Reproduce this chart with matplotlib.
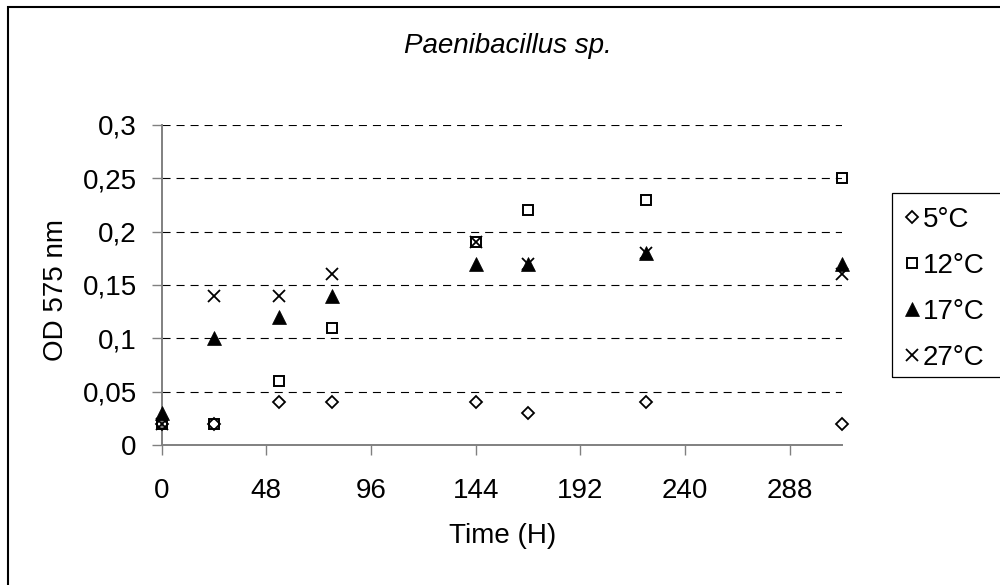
import matplotlib
matplotlib.use("Agg")
import matplotlib.pyplot as plt
from matplotlib.patches import Rectangle
from matplotlib.ticker import FixedLocator, FuncFormatter

plt.rcParams['font.family'] = ['Liberation Sans', 'DejaVu Sans']
plt.rcParams['lines.scale_dashes'] = False

# Growth of Paenibacillus sp. at four temperatures
time_h = [0, 24, 54, 78, 144, 168, 222, 312]
od_5c = [0.02, 0.02, 0.04, 0.04, 0.04, 0.03, 0.04, 0.02]
od_12c = [0.02, 0.02, 0.06, 0.11, 0.19, 0.22, 0.23, 0.25]
od_17c = [0.03, 0.10, 0.12, 0.14, 0.17, 0.17, 0.18, 0.17]
od_27c = [0.02, 0.14, 0.14, 0.16, 0.19, 0.17, 0.18, 0.16]

series_labels = ['5°C', '12°C', '17°C', '27°C']
x_ticks = [0, 48, 96, 144, 192, 240, 288]
y_ticks = [0, 0.05, 0.1, 0.15, 0.2, 0.25, 0.3]

W, H = 1000, 585
fig = plt.figure(figsize=(W / 100, H / 100), dpi=100)

def fx(px):
    return px / W

def fy(py):
    return 1 - py / H

# outer chart border
fig.patches.append(Rectangle((fx(8), fy(H + 20)), fx(W + 20 - 8), (H + 20 - 7) / H,
                             transform=fig.transFigure, fill=False,
                             edgecolor='black', linewidth=1.5))

ax = fig.add_axes([fx(161.7), fy(445), fx(842) - fx(161.7), fy(125) - fy(445)])
ax.set_xlim(0, 312)
ax.set_ylim(0, 0.3)

grey = '#808080'
for s in ['top', 'right']:
    ax.spines[s].set_visible(False)
for s in ['left', 'bottom']:
    ax.spines[s].set_color(grey)
    ax.spines[s].set_linewidth(1.4)

ax.xaxis.set_major_locator(FixedLocator(x_ticks))
ax.yaxis.set_major_locator(FixedLocator(y_ticks))
ax.yaxis.set_major_formatter(FuncFormatter(lambda v, p: ('%g' % v).replace('.', ',')))
ax.xaxis.set_major_formatter(FuncFormatter(lambda v, p: '%d' % v))
ax.tick_params(axis='both', direction='out', length=7.2, width=1.0, color=grey,
               labelsize=20, labelcolor='black')
ax.tick_params(axis='x', pad=16.5)
ax.tick_params(axis='y', pad=10.8)

for yv in y_ticks[1:]:
    ax.axhline(yv, color='black', linewidth=0.8, dashes=(5.8, 4.3), zorder=1)

common = dict(linestyle='none', clip_on=False, zorder=3)
h5, = ax.plot(time_h, od_5c, marker='D', markersize=6.0, markerfacecolor='none',
              markeredgecolor='black', markeredgewidth=1.3, **common)
h12, = ax.plot(time_h, od_12c, marker='s', markersize=7.0, markerfacecolor='none',
               markeredgecolor='black', markeredgewidth=1.4, **common)
h17, = ax.plot(time_h, od_17c, marker='^', markersize=9.5, markerfacecolor='black',
               markeredgecolor='black', markeredgewidth=0.5, **common)
h27, = ax.plot(time_h, od_27c, marker='x', markersize=9.0, color='black',
               markeredgewidth=1.3, **common)

ax.set_xlabel('Time (H)', fontsize=20)
ax.xaxis.set_label_coords(0.5017, (445 - 543) / 320)
ax.xaxis.label.set_verticalalignment('baseline')

ax.set_ylabel('OD 575 nm', fontsize=20)
ax.yaxis.set_label_coords((63 - 161.7) / 680.3, (445 - 290) / 320)
ax.yaxis.label.set_verticalalignment('baseline')

fig.text(fx(508), fy(53), 'Paenibacillus sp.', fontsize=20, style='italic',
         ha='center', va='baseline')

# legend box and entries
fig.patches.append(Rectangle((fx(892), fy(377)), fx(130), (377 - 193) / H,
                             transform=fig.transFigure, fill=False,
                             edgecolor='black', linewidth=0.9))
leg = fig.legend([h5, h12, h17, h27], series_labels, loc='upper left',
                 bbox_to_anchor=(fx(905), fy(207)), bbox_transform=fig.transFigure,
                 frameon=False, fontsize=20, handlelength=0.5, handletextpad=0.15,
                 labelspacing=0.72, borderpad=0, borderaxespad=0, numpoints=1)

fig.savefig('out.png', dpi=100)
